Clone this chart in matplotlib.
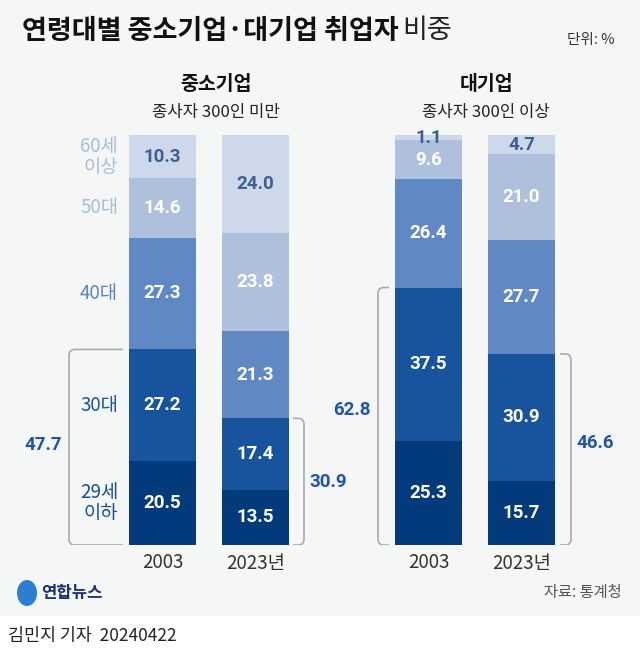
import matplotlib
matplotlib.use("Agg")
import matplotlib.pyplot as plt
from matplotlib.path import Path
from matplotlib.patches import PathPatch, Rectangle, Ellipse

plt.rcParams['font.family'] = ['Noto Sans CJK KR', 'DejaVu Sans']
NUM_FONT = ['Roboto', 'Noto Sans CJK KR', 'DejaVu Sans']

# ---------------- data ----------------
age_groups = ["29세\n이하", "30대", "40대", "50대", "60세\n이상"]
bar_years = ["2003", "2023년", "2003", "2023년"]
sme_2003 = [20.5, 27.2, 27.3, 14.6, 10.3]
sme_2023 = [13.5, 17.4, 21.3, 23.8, 24.0]
large_2003 = [25.3, 37.5, 26.4, 9.6, 1.1]
large_2023 = [15.7, 30.9, 27.7, 21.0, 4.7]
series = [sme_2003, sme_2023, large_2003, large_2023]
under40_totals = [47.7, 30.9, 62.8, 46.6]
group_titles = ["중소기업", "대기업"]
group_subtitles = ["종사자 300인 미만", "종사자 300인 이상"]

# ---------------- style / layout ----------------
W, H = 640, 657
seg_colors = ["#033a7c", "#18539d", "#6088c5", "#afc0dc", "#cdd8ea"]
label_colors = ["white", "white", "white", "white", "#3d5f92"]
cat_colors = ["#1a4f98", "#1b53a1", "#5a85c6", "#a8bcdc", "#a8bcdc"]
bg = "#f5f6f6"
bar_x = [162.5, 255.5, 428.5, 521.5]
bar_w = 67
base_px, top_px = 545, 135
accent = "#1f56a5"

def fx(x):
    return x / W

def fy(y):
    return 1 - y / H

fig = plt.figure(figsize=(W / 100, H / 100), dpi=100)
fig.patch.set_facecolor("white")
fig.patches.append(Rectangle((0, fy(616)), 1, 1 - fy(616), transform=fig.transFigure,
                             facecolor=bg, edgecolor="none", zorder=-10))

ax = fig.add_axes([0, fy(base_px), 1, (base_px - top_px) / H])
ax.set_zorder(5)
ax.set_xlim(0, W)
ax.set_ylim(0, 100)
ax.axis("off")

# stacked bars
for xi, vals in zip(bar_x, series):
    bottom = 0
    for k, v in enumerate(vals):
        ax.bar(xi, v, bottom=bottom, width=bar_w, color=seg_colors[k], edgecolor="none", zorder=2)
        ax.text(xi, bottom + v / 2, f"{v:.1f}", ha="center", va="center", family=NUM_FONT,
                fontsize=13.5, fontweight="bold", color=label_colors[k], zorder=3)
        bottom += v

# category labels (left of first bar)
bottom = 0
for k, v in enumerate(sme_2003):
    ax.text(118, bottom + v / 2, age_groups[k], ha="right", va="center", fontsize=13.5,
            color=cat_colors[k], linespacing=1.0)
    bottom += v

# year labels
for xi, yl in zip(bar_x, bar_years):
    fig.text(fx(xi), fy(563), yl, ha="center", va="center", fontsize=13.5, color="#333333")

# brackets
yscale = 100 / (base_px - top_px)

def bracket(x_open, x_vert, top, r=6):
    ry = r * yscale
    s = 1 if x_open > x_vert else -1
    verts = [(x_open, top), (x_vert + s * r, top), (x_vert, top), (x_vert, top - ry),
             (x_vert, ry), (x_vert, 0), (x_vert + s * r, 0), (x_open, 0)]
    codes = [Path.MOVETO, Path.LINETO, Path.CURVE3, Path.CURVE3,
             Path.LINETO, Path.CURVE3, Path.CURVE3, Path.LINETO]
    ax.add_patch(PathPatch(Path(verts, codes), facecolor="none", edgecolor="#a5a5a5",
                           lw=1.1, zorder=1, capstyle="butt"))

bracket_geo = [(123, 69), (293, 304), (389, 378), (560, 571)]
label_pos = [(43, 445), (328, 482), (352, 410), (595, 443)]
for (xo, xv), tot, (lx, ly) in zip(bracket_geo, under40_totals, label_pos):
    bracket(xo, xv, tot)
    fig.text(fx(lx), fy(ly), f"{tot:.1f}", ha="center", va="center", fontsize=13.5,
             family=NUM_FONT, fontweight="bold", color=accent)

# group titles
for cx, t, st in zip([216, 486], group_titles, group_subtitles):
    fig.text(fx(cx), fy(85), t, ha="center", va="center", fontsize=14, fontweight="bold",
             color="#111111")
    fig.text(fx(cx), fy(112), st, ha="center", va="center", fontsize=12, color="#222222")

# title
t1 = fig.text(fx(22), fy(31), "연령대별 중소기업·대기업 취업자", ha="left", va="center",
              fontsize=19.5, fontweight="bold", color="#111111")
fig.canvas.draw()
bb = t1.get_window_extent()
x_end = bb.x1 / fig.bbox.width
fig.text(x_end + fx(4), fy(31), "비중", ha="left", va="center", fontsize=19.5,
         fontweight="light", color="#222222")
fig.text(fx(615), fy(40), "단위: %", ha="right", va="center", fontsize=10.5, color="#333333")

# footer
fig.patches.append(Ellipse((fx(27), fy(593)), fx(20), 26 / H, angle=0,
                           transform=fig.transFigure, facecolor="#2a7fd0",
                           edgecolor="none", zorder=2))
fig.text(fx(41), fy(593), "연합뉴스", ha="left", va="center", fontsize=12,
         fontweight="bold", color="#1c2f6e")
fig.text(fx(622), fy(592), "자료: 통계청", ha="right", va="center", fontsize=11, color="#555555")
fig.text(fx(8), fy(636), "김민지 기자  20240422", ha="left", va="center", fontsize=12.5,
         color="#222222")

fig.savefig("out.png", dpi=100, facecolor=fig.get_facecolor())
